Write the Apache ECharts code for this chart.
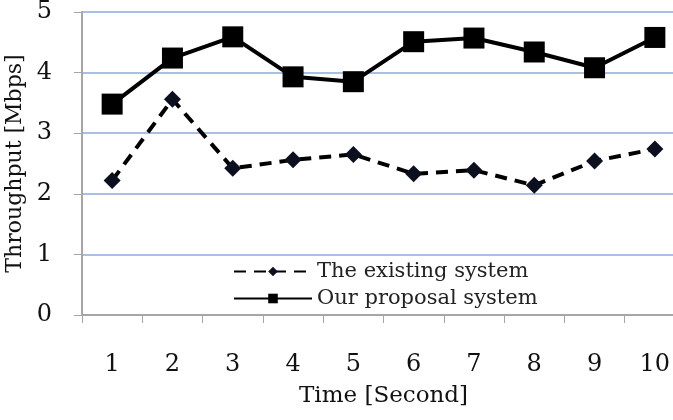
<!DOCTYPE html>
<html>
<head>
<meta charset="utf-8">
<script src="https://cdn.jsdelivr.net/npm/echarts@6/dist/echarts.min.js"></script>
<style>
  html, body { margin: 0; padding: 0; background: #fff; }
  #chart { width: 673px; height: 420px; }
</style>
</head>
<body>
<div id="chart"></div>
<script>
  // 横軸のカテゴリ（秒）
  var timeLabels = ['1', '2', '3', '4', '5', '6', '7', '8', '9', '10'];
  // 既存システム
  var existingValues = [2.22, 3.56, 2.42, 2.56, 2.65, 2.33, 2.39, 2.14, 2.54, 2.74];
  // 提案システム
  var proposalValues = [3.48, 4.24, 4.59, 3.93, 3.85, 4.51, 4.57, 4.34, 4.08, 4.58];
  var seriesNames = ['The existing system', 'Our proposal system'];

  var serif = '"DejaVu Serif", "Liberation Serif", serif';
  var myChart = echarts.init(document.getElementById('chart'));

  var options = {
    animation: false,
    textStyle: { fontFamily: serif },
    grid: { left: 82, top: 12, bottom: 105, right: -12, outerBoundsMode: 'none', containLabel: false },
    legend: {
      orient: 'vertical',
      left: 228,
      top: 255,
      itemWidth: 78,
      itemHeight: 12,
      itemGap: 4,
      data: seriesNames,
      textStyle: { fontFamily: serif, fontSize: 21, lineHeight: 23, color: '#222' }
    },
    xAxis: {
      type: 'category',
      data: timeLabels,
      boundaryGap: true,
      name: 'Time [Second]',
      nameLocation: 'middle',
      nameGap: 70,
      nameTextStyle: { fontFamily: serif, fontSize: 23, color: '#111' },
      axisLine: { lineStyle: { color: '#a6a6a6', width: 2 } },
      axisTick: { show: true, length: 8, lineStyle: { color: '#a6a6a6', width: 1 } },
      axisLabel: { margin: 38, fontFamily: serif, fontSize: 24, color: '#111' },
      splitLine: { show: false }
    },
    yAxis: {
      type: 'value',
      min: 0,
      max: 5,
      interval: 1,
      name: 'Throughput [Mbps]',
      nameLocation: 'middle',
      nameGap: 54,
      nameTextStyle: { fontFamily: serif, fontSize: 22, color: '#111' },
      axisLine: { show: true, lineStyle: { color: '#a6a6a6', width: 2 } },
      axisTick: { show: true, length: 8, lineStyle: { color: '#a6a6a6' } },
      axisLabel: { margin: 30, fontFamily: serif, fontSize: 24, color: '#111' },
      splitLine: { lineStyle: { color: '#8eaadb', width: 1.5 } }
    },
    series: [
      {
        name: seriesNames[0],
        type: 'line',
        data: existingValues,
        symbol: 'diamond',
        symbolSize: 17,
        lineStyle: { color: '#000', width: 4, type: [12, 8] },
        itemStyle: { color: '#0b0f1e' }
      },
      {
        name: seriesNames[1],
        type: 'line',
        data: proposalValues,
        symbol: 'rect',
        symbolSize: 21,
        lineStyle: { color: '#000', width: 4 },
        itemStyle: { color: '#000' }
      }
    ]
  };
  myChart.setOption(options);
</script>
</body>
</html>
